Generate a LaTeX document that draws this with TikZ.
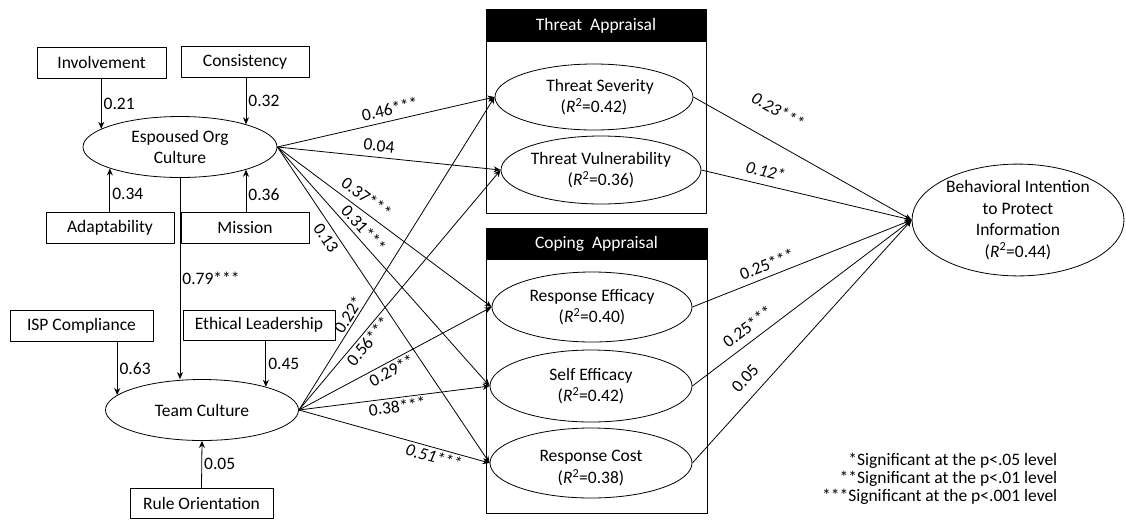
\documentclass[tikz,border=0pt]{standalone}
\usepackage{fontspec}
\setmainfont{Carlito}
\usetikzlibrary{shapes.geometric,arrows.meta}
\newcommand\Rsq[1]{(\textit{R}\textsuperscript{2}=#1)}
\begin{document}
\begin{tikzpicture}[x=1pt,y=-1pt,line join=round,line width=0.8pt,>={Stealth[length=7pt,width=6pt]},
 font=\fontsize{17.5}{21.5}\selectfont,
 obs/.style={draw,minimum height=31pt,inner sep=0pt},
 lat/.style={draw,ellipse,inner sep=0pt,align=center},
 grp/.style={draw,inner sep=0pt},
 hdr/.style={fill=black,text=white,inner sep=0pt,anchor=north},
 w/.style={inner sep=2pt}]
\useasboundingbox (0,0) rectangle (1126,520);
\node[obs,minimum width=129pt] (inv) at (101.5,62.5) {Involvement};
\node[obs,minimum width=128pt] (con) at (245,62) {Consistency};
\node[obs,minimum width=128pt] (ada) at (110,227.5) {Adaptability};
\node[obs,minimum width=128pt] (mis) at (245,227.5) {Mission};
\node[lat,minimum width=194pt,minimum height=61pt] (eoc) at (180,147) {Espoused Org\\Culture};
\node[obs,minimum width=143pt] (isp) at (81.5,326) {ISP Compliance};
\node[obs,minimum width=152pt,minimum height=30pt] (eth) at (259,325) {Ethical Leadership};
\node[lat,minimum width=193pt,minimum height=61pt] (tc) at (202,410) {Team Culture};
\node[obs,minimum width=143pt,minimum height=30pt] (rule) at (201.5,503) {Rule Orientation};
\node[grp,minimum width=220pt,minimum height=204pt] (ta) at (596,111) {};
\node[hdr,minimum width=220pt,minimum height=33pt] (tah) at (ta.north) {Threat~~Appraisal};
\node[grp,minimum width=221pt,minimum height=285pt] (ca) at (596.5,370.5) {};
\node[hdr,minimum width=221pt,minimum height=32pt] (cah) at (ca.north) {Coping~~Appraisal};
\node[lat,minimum width=198pt,minimum height=66pt] (ts) at (594,97) {\hspace{12pt}Threat Severity\\\Rsq{0.42}};
\node[lat,minimum width=200pt,minimum height=68pt] (tv) at (601,170) {Threat Vulnerability\\\Rsq{0.36}};
\node[lat,minimum width=200pt,minimum height=70pt] (re) at (592,307) {Response Efficacy\\\Rsq{0.40}};
\node[lat,minimum width=202pt,minimum height=72pt] (se) at (591,386) {Self Efficacy\\\Rsq{0.42}};
\node[lat,minimum width=202pt,minimum height=70pt] (rc) at (591,463) {\mbox{}\\Response Cost\\\Rsq{0.38}};
\node[lat,minimum width=212pt,minimum height=104pt] (bi) at (1018,220) {Behavioral Intention\\to Protect\\Information\\\Rsq{0.44}};
\node[align=right,anchor=east,font=\fontsize{17.5}{18}\selectfont] (leg) at (1061,479) {*Significant at the p<.05 level\\**Significant at the p<.01 level\\***Significant at the p<.001 level};
\draw[->] (inv.south -| eoc.167) -- node[right,w]{0.21} (eoc.167);
\draw[->] (con.south -| eoc.19) -- node[right,w]{0.32} (eoc.19);
\draw[->] (ada.north -| eoc.197) -- node[right,w,pos=0.4]{0.34} (eoc.197);
\draw[->] (mis.north -| eoc.341) -- node[right,w,pos=0.4]{0.36} (eoc.341);
\draw[->] (eoc.south) -- node[right,w]{0.79***} (eoc.south |- tc.north);
\draw[->] (isp.south -| tc.170) -- node[right,w]{0.63} (tc.170);
\draw[->] (eth.south -| tc.20) -- node[right,w]{0.45} (tc.20);
\draw[->] (rule.north) -- node[right,w]{0.05} (tc.south);
\foreach \t/\p/\l/\s/\d in {ts/0.53/0.46***/above/2pt, tv/0.45/0.04/above/2pt, re/0.38/0.37***/above/3pt, se/0.37/0.31***/above/0.5pt, rc/0.27/0.13/below/1pt}
 \draw[->] (eoc.east) -- node[pos=\p,sloped,\s=\d]{\l} (\t.west);
\foreach \t/\p/\l/\s in {ts/0.29/0.22*/above, tv/0.31/0.56***/below, re/0.46/0.29**/below, se/0.51/0.38***/below, rc/0.72/\textit{0.51***}/below}
 \draw[->] (tc.east) -- node[pos=\p,sloped,\s,w]{\l} (\t.west);
\foreach \t/\p/\l/\d in {ts/0.32/\textit{0.23***}/20pt, tv/0.29/\textit{0.12*}/4pt, re/0.36/0.25***/2pt, se/0.29/0.25***/4pt, rc/0.3/0.05/8pt}
 \draw[->] (\t.east) -- node[pos=\p,sloped,above=\d]{\l} (bi.west);
\end{tikzpicture}
\end{document}
